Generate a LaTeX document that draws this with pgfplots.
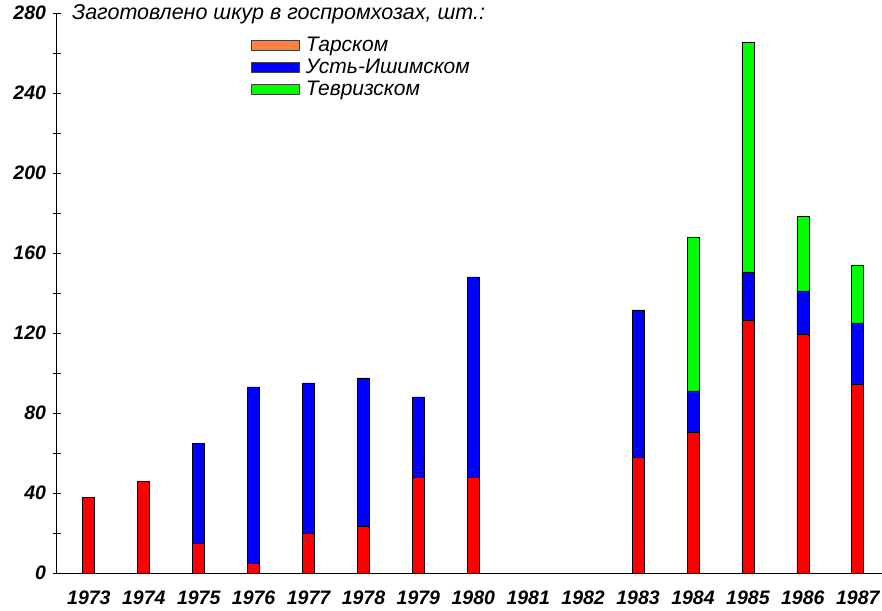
\documentclass[border=0pt]{standalone}
\usepackage{fontspec}
\setmainfont{Liberation Sans}
\usepackage{pgfplots}
\pgfplotsset{compat=1.18}
\definecolor{cred}{RGB}{255,0,0}
\definecolor{cblue}{RGB}{0,0,255}
\definecolor{cgreen}{RGB}{0,255,0}
\definecolor{corange}{RGB}{255,127,64}
\begin{document}
\begin{tikzpicture}
\begin{axis}[
  scale only axis, width=825pt, height=560pt,
  xmin=1972.42, xmax=1987.44, ymin=0, ymax=280,
  clip=false,
  ybar stacked, bar width=12pt,
  axis x line=bottom, axis y line=left,
  axis line style={-, line width=1pt},
  xtick={1973,1974,...,1987},
  ytick={0,40,...,280},
  minor y tick num=1,
  tick align=center, major tick length=9pt, minor tick length=9pt,
  tick style={line width=0.8pt, black},
  x tick style={draw=none},
  /pgf/number format/assume math mode=true,
  /pgf/number format/1000 sep={},
  tick label style={font=\fontsize{19.5}{21}\selectfont\bfseries\itshape},
  xticklabel style={yshift=-10pt},
  yticklabel style={xshift=-3pt},
  legend style={at={(0.2315,0.962)}, anchor=north west, draw=none, fill=none,
    font=\fontsize{21}{22}\selectfont\itshape, row sep=4pt,
    nodes={inner sep=1pt, inner xsep=6pt}},
  legend cell align=left,
  legend image code/.code={\draw[#1, draw=black!75, line width=0.8pt] (0pt,-5pt) rectangle (48pt,5pt);},
  every axis plot/.append style={draw=black, line width=0.8pt},
]
\addplot+[fill=cred, draw=black,
  legend image code/.code={\draw[fill=corange, draw=black!75, line width=0.8pt] (0pt,-5pt) rectangle (48pt,5pt);}]
  coordinates {(1973,38) (1974,46) (1975,15) (1976,5) (1977,20) (1978,23.5) (1979,48) (1980,48) (1983,58) (1984,70.5) (1985,126.5) (1986,119.5) (1987,94.5)};
\addplot+[fill=cblue, draw=black]
  coordinates {(1973,0) (1974,0) (1975,50) (1976,88) (1977,75) (1978,74) (1979,40) (1980,100) (1983,73.5) (1984,20.5) (1985,24) (1986,21.5) (1987,30.5)};
\addplot+[fill=cgreen, draw=black]
  coordinates {(1973,0) (1974,0) (1975,0) (1976,0) (1977,0) (1978,0) (1979,0) (1980,0) (1983,0) (1984,77) (1985,115) (1986,37.5) (1987,29)};
\legend{Тарском, Усть-Ишимском, Тевризском}
\node[anchor=west, font=\fontsize{21.5}{22}\selectfont\itshape, inner sep=0pt] at (rel axis cs:0.018,0.998) {Заготовлено шкур в госпромхозах, шт.:};
\coordinate (O) at (rel axis cs:0,0);
\end{axis}
\pgfresetboundingbox
\path ([shift={(-57pt,-37pt)}]O) rectangle ([shift={(825pt,573pt)}]O);
\end{tikzpicture}
\end{document}
